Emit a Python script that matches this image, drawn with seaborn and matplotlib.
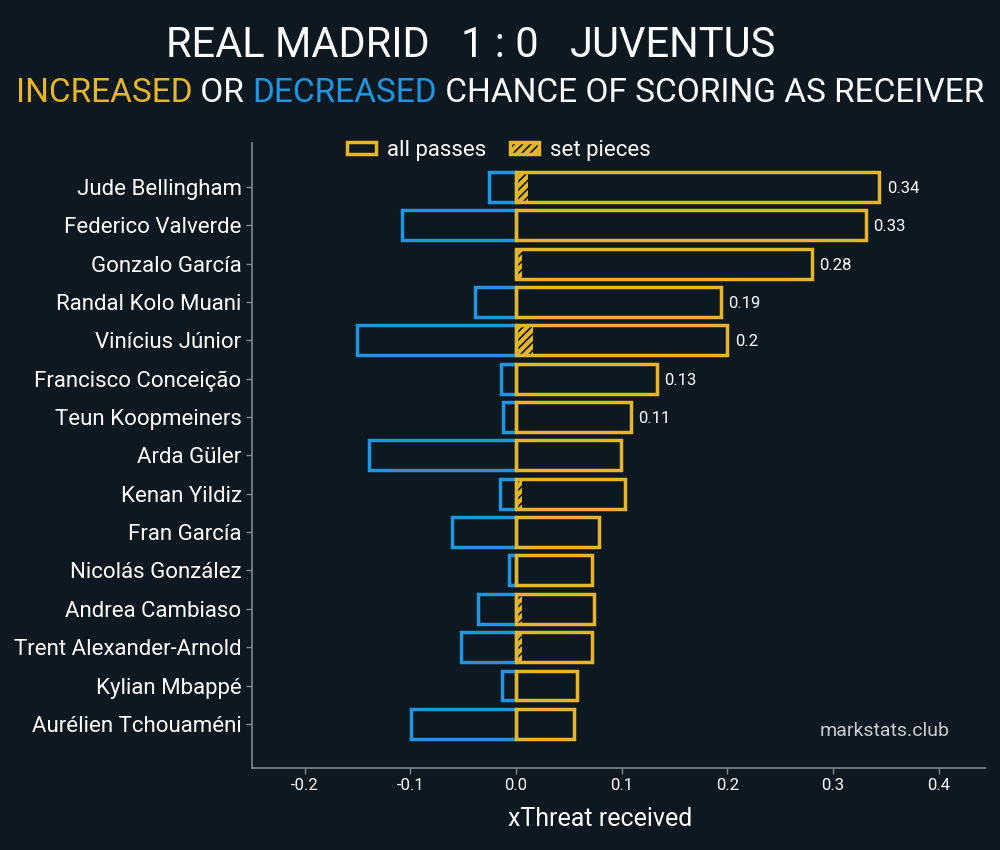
import numpy as np
import pandas as pd
import seaborn as sns
import matplotlib.pyplot as plt
from matplotlib.patches import Patch
from matplotlib.legend_handler import HandlerTuple

players = ['Jude Bellingham', 'Federico Valverde', 'Gonzalo García', 'Randal Kolo Muani',
           'Vinícius Júnior', 'Francisco Conceição', 'Teun Koopmeiners', 'Arda Güler',
           'Kenan Yildiz', 'Fran García', 'Nicolás González', 'Andrea Cambiaso',
           'Trent Alexander-Arnold', 'Kylian Mbappé', 'Aurélien Tchouaméni']
increased = [0.344, 0.331, 0.280, 0.194, 0.200, 0.133, 0.109, 0.099,
             0.103, 0.079, 0.072, 0.074, 0.072, 0.058, 0.055]
decreased = [-0.026, -0.108, 0.0, -0.039, -0.151, -0.014, -0.012, -0.139,
             -0.015, -0.061, -0.007, -0.036, -0.052, -0.013, -0.099]
set_pieces = [0.011, 0.0, 0.0055, 0.0, 0.0156, 0.0, 0.0, 0.0,
              0.0057, 0.0, 0.0, 0.0055, 0.0055, 0.0, 0.0]

home, away, score = 'REAL MADRID', 'JUVENTUS', '1 : 0'

BG = '#0e1820'
YEL = '#e6b52a'
BLUE = '#1f96e3'
GREY = '#7d8890'

df = pd.DataFrame({'player': players, 'pos': increased, 'neg': decreased, 'sp': set_pieces})

sns.set_style('dark')
plt.rcParams['font.family'] = ['Roboto', 'DejaVu Sans']
plt.rcParams['hatch.linewidth'] = 1.2

fig = plt.figure(figsize=(10, 8.5), dpi=100, facecolor=BG)
ax = fig.add_axes([0.252, 0.0965, 0.733, 0.7355])
ax.set_facecolor(BG)

# set pieces (hatched)
sns.barplot(data=df, x='sp', y='player', order=players, orient='h', errorbar=None,
            color=YEL, saturation=1, width=0.78, ax=ax)
for p in ax.containers[-1]:
    p.set_facecolor(YEL)
    p.set_edgecolor(BG)
    p.set_hatch('////')
    p.set_linewidth(0)

# decreased (blue outline)
sns.barplot(data=df, x='neg', y='player', order=players, orient='h', errorbar=None,
            color=BLUE, saturation=1, width=0.78, ax=ax)
for p in ax.containers[-1]:
    p.set_facecolor('none')
    p.set_edgecolor(BLUE)
    p.set_linewidth(2.5)

# increased (yellow outline)
sns.barplot(data=df, x='pos', y='player', order=players, orient='h', errorbar=None,
            color=YEL, saturation=1, width=0.78, ax=ax)
for p in ax.containers[-1]:
    p.set_facecolor('none')
    p.set_edgecolor(YEL)
    p.set_linewidth(2.5)

for i, v in enumerate(increased):
    if v > 0.105:
        ax.text(v + 0.007, i, str(round(v, 2)), color='white', fontsize=12,
                va='center_baseline', ha='left')

ax.set_xlim(-0.25, 0.444)
ax.set_ylim(len(players) - 1 + 1.15, -1.15)
ax.set_xticks([-0.2, -0.1, 0.0, 0.1, 0.2, 0.3, 0.4])
ax.set_xticklabels(['-0.2', '-0.1', '0.0', '0.1', '0.2', '0.3', '0.4'])
ax.set_xlabel('xThreat received', color='white', fontsize=18, labelpad=10, x=0.475)
ax.set_ylabel('')
ax.tick_params(axis='x', colors=GREY, labelcolor='white', labelsize=12, length=4, width=1, bottom=True)
ax.tick_params(axis='y', colors=GREY, labelcolor='white', labelsize=16, length=4, width=1, left=True)
ax.grid(False)
for s in ['top', 'right']:
    ax.spines[s].set_visible(False)
for s in ['left', 'bottom']:
    ax.spines[s].set_visible(True)
    ax.spines[s].set_color(GREY)
    ax.spines[s].set_linewidth(1.2)

h_all = Patch(facecolor='none', edgecolor=YEL, linewidth=2.5)
h_sp = (Patch(facecolor=YEL, edgecolor=BG, hatch='////', linewidth=0),
        Patch(facecolor='none', edgecolor=YEL, linewidth=2.5))
leg = ax.legend([h_all, h_sp], ['all passes', 'set pieces'], ncol=2, loc='upper center',
                bbox_to_anchor=(0.337, 1.037), frameon=False, fontsize=16,
                handler_map={tuple: HandlerTuple(ndivide=1)},
                handlelength=1.3, handleheight=0.45, columnspacing=1.1, handletextpad=0.5)
for t in leg.get_texts():
    t.set_color('white')

ax.text(0.952, 0.059, 'markstats.club', transform=ax.transAxes, color='#c9cdd1',
        fontsize=14, ha='right', va='center')

# title
fig.text(0.5, 0.947, score, color='white', fontsize=30, ha='center', va='center')
fig.text(0.43, 0.947, home, color='white', fontsize=30, ha='right', va='center')
fig.text(0.57, 0.947, away, color='white', fontsize=30, ha='left', va='center')

# subtitle in three colours
parts = [('INCREASED', YEL), (' OR ', 'white'), ('DECREASED', BLUE),
         (' CHANCE OF SCORING AS RECEIVER', 'white')]
renderer = fig.canvas.get_renderer()
texts = []
widths = []
for s, c in parts:
    t = fig.text(0, 0.891, s, color=c, fontsize=24, ha='left', va='center')
    texts.append(t)
    widths.append(t.get_window_extent(renderer).width)
full = fig.text(0, 0.891, ''.join(p[0] for p in parts), fontsize=24, ha='left', va='center')
total = full.get_window_extent(renderer).width
full.remove()
x0 = (fig.bbox.width - total) / 2
xs = x0
for t, w in zip(texts, widths):
    t.set_x(xs / fig.bbox.width)
    xs += w

fig.savefig('out.png', dpi=100, facecolor=BG)
